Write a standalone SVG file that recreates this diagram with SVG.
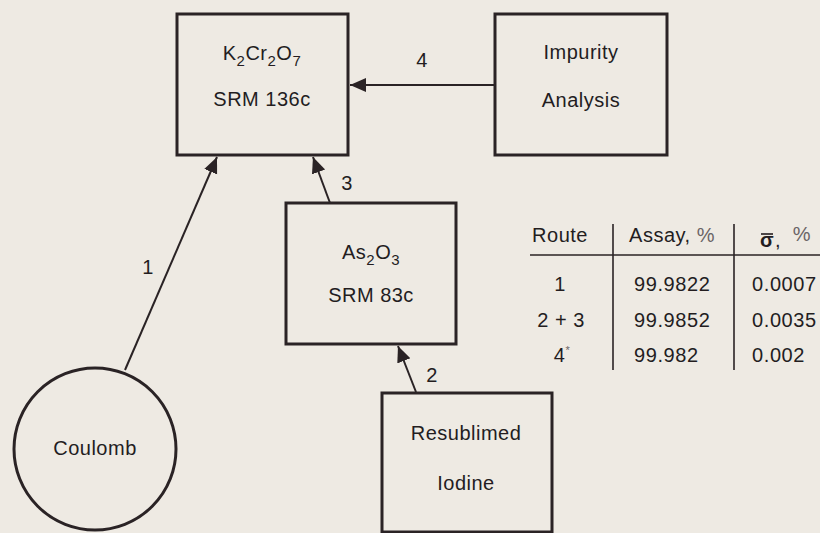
<svg xmlns="http://www.w3.org/2000/svg" width="820" height="533" viewBox="0 0 820 533">
  <style>
    .box { fill: none; stroke: #2a2325; stroke-width: 3; }
    .edge { stroke: #2a2325; stroke-width: 2; fill: none; }
    .rule { stroke: #2a2325; stroke-width: 1.6; fill: none; }
    text { font-family: "Liberation Sans", "DejaVu Sans", sans-serif; font-size: 20px; fill: #231d1f; text-anchor: middle; letter-spacing: 0.5px; }
    .sub { font-size: 15px; }
    .num { letter-spacing: 0.6px; text-anchor: start; }
    .light { fill: #6a6466; }
  </style>
  <defs>
    <marker id="arrow" markerUnits="userSpaceOnUse" markerWidth="18" markerHeight="16" refX="16" refY="7" orient="auto">
      <path d="M0,0 L16,7 L0,14 Z" fill="#2a2325"/>
    </marker>
  </defs>

  <rect width="820" height="533" fill="#eeeae3"/>

  <!-- connectors -->
  <g id="connectors">
    <line class="edge" x1="125" y1="370" x2="217" y2="157" marker-end="url(#arrow)"/>
    <line class="edge" x1="330" y1="203" x2="313" y2="157" marker-end="url(#arrow)"/>
    <line class="edge" x1="416" y1="392" x2="398" y2="346" marker-end="url(#arrow)"/>
    <line class="edge" x1="495" y1="85" x2="350" y2="85" marker-end="url(#arrow)"/>
    <text x="148" y="274">1</text>
    <text x="432" y="382">2</text>
    <text x="347" y="190">3</text>
    <text x="422" y="67">4</text>
  </g>

  <!-- nodes -->
  <g id="k2cr2o7">
    <rect class="box" x="177" y="14" width="171" height="141"/>
    <text x="262" y="60">K<tspan class="sub" dy="6">2</tspan><tspan dy="-6">Cr</tspan><tspan class="sub" dy="6">2</tspan><tspan dy="-6">O</tspan><tspan class="sub" dy="6">7</tspan></text>
    <text x="262" y="106">SRM 136c</text>
  </g>

  <g id="impurity">
    <rect class="box" x="495" y="14" width="172" height="141"/>
    <text x="581" y="59">Impurity</text>
    <text x="581" y="107">Analysis</text>
  </g>

  <g id="as2o3">
    <rect class="box" x="286" y="203" width="170" height="141"/>
    <text x="371" y="259">As<tspan class="sub" dy="6">2</tspan><tspan dy="-6">O</tspan><tspan class="sub" dy="6">3</tspan></text>
    <text x="371" y="302">SRM 83c</text>
  </g>

  <g id="iodine">
    <rect class="box" x="382" y="393" width="170" height="139"/>
    <text x="466" y="440">Resublimed</text>
    <text x="466" y="490">Iodine</text>
  </g>

  <g id="coulomb">
    <circle class="box" cx="95" cy="449" r="81"/>
    <text x="95" y="455">Coulomb</text>
  </g>

  <!-- results table -->
  <g id="table">
    <line class="rule" x1="530" y1="255" x2="820" y2="255"/>
    <line class="rule" x1="613" y1="224" x2="613" y2="370"/>
    <line class="rule" x1="734" y1="224" x2="734" y2="370"/>
    <text x="560" y="242">Route</text>
    <text x="672" y="242">Assay, <tspan class="light">%</tspan></text>
    <text x="767" y="247" font-weight="bold" font-size="18">σ</text>
    <line x1="761" y1="234" x2="773" y2="234" stroke="#231d1f" stroke-width="1.6"/>
    <text x="778" y="247">,</text>
    <text x="802" y="241" class="light">%</text>

    <text x="560" y="291">1</text>
    <text x="561" y="327">2 + 3</text>
    <text x="562" y="362">4<tspan font-size="11" dy="-8" class="light">*</tspan></text>

    <text class="num" x="634" y="291">99.9822</text>
    <text class="num" x="634" y="327">99.9852</text>
    <text class="num" x="634" y="362">99.982</text>

    <text class="num" x="752" y="291">0.0007</text>
    <text class="num" x="752" y="327">0.0035</text>
    <text class="num" x="752" y="362">0.002</text>
  </g>
</svg>
